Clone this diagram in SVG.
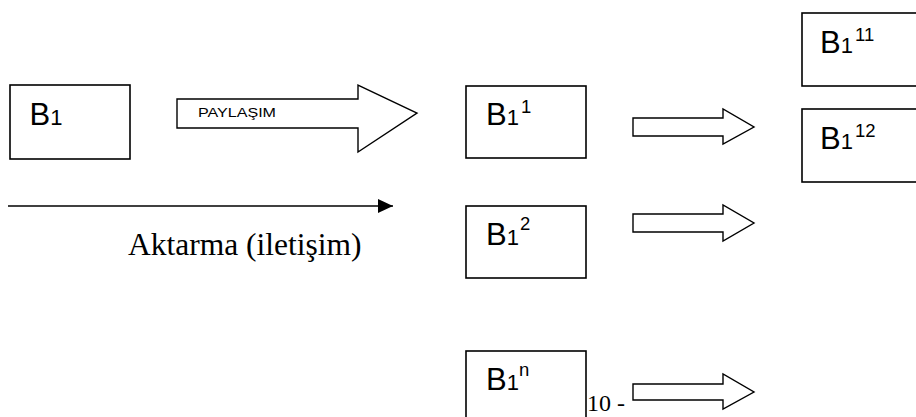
<svg xmlns="http://www.w3.org/2000/svg" width="916" height="417" viewBox="0 0 916 417">
  <style>
    .box { fill: #fff; stroke: #000; stroke-width: 1.6; }
    .blk { fill: #fff; stroke: #000; stroke-width: 1.4; stroke-linejoin: miter; }
    .lbl { font-family: "Liberation Sans", Arial, sans-serif; fill: #000; }
    .big { font-size: 31px; }
    .sub { font-size: 22px; }
    .sup { font-size: 18.5px; }
    .ser { font-family: "Liberation Serif", "Times New Roman", serif; fill: #000; }
  </style>
  <defs>
    <marker id="tri" markerWidth="16" markerHeight="14" refX="15" refY="7" orient="auto" markerUnits="userSpaceOnUse">
      <path d="M0,0 L15,7 L0,14 Z" fill="#000"/>
    </marker>
  </defs>

  <!-- connectors: block arrows and transfer line -->
  <g id="connectors">
    <path class="blk" d="M177,99 H358 V85 L417,113 L358,152 V128 H177 Z"/>
    <text class="lbl" x="198" y="117" font-size="13.5" textLength="78" lengthAdjust="spacingAndGlyphs">PAYLAŞIM</text>
    <path class="blk" d="M633,118 H723 V109 L754,127 L723,144 V136 H633 Z"/>
    <path class="blk" d="M633,214 H723 V205 L754,223 L723,241 V232 H633 Z"/>
    <path class="blk" d="M633,384 H723 V374 L754,392 L723,409 V400 H633 Z"/>
    <line x1="8" y1="206" x2="393" y2="206" stroke="#000" stroke-width="1.6" marker-end="url(#tri)"/>
    <text class="ser" x="128" y="255" font-size="31.5">Aktarma (iletişim)</text>
  </g>

  <g id="b1">
    <rect class="box" x="10" y="85" width="120" height="74"/>
    <text class="lbl" y="125"><tspan class="big" x="29.5">B</tspan><tspan class="sub">1</tspan></text>
  </g>

  <g id="b1-1">
    <rect class="box" x="466" y="86" width="120" height="72"/>
    <text class="lbl" y="125"><tspan class="big" x="486">B</tspan><tspan class="sub">1</tspan></text>
    <text class="lbl sup" x="521" y="113">1</text>
  </g>

  <g id="b1-11">
    <rect class="box" x="802" y="13" width="130" height="73"/>
    <text class="lbl" y="53"><tspan class="big" x="820">B</tspan><tspan class="sub">1</tspan></text>
    <text class="lbl sup" x="855" y="41">11</text>
  </g>

  <g id="b1-12">
    <rect class="box" x="802" y="109" width="130" height="73"/>
    <text class="lbl" y="149"><tspan class="big" x="820">B</tspan><tspan class="sub">1</tspan></text>
    <text class="lbl sup" x="855" y="137">12</text>
  </g>

  <g id="b1-2">
    <rect class="box" x="466" y="206" width="120" height="72"/>
    <text class="lbl" y="245"><tspan class="big" x="486">B</tspan><tspan class="sub">1</tspan></text>
    <text class="lbl sup" x="520" y="230">2</text>
  </g>

  <g id="b1-n">
    <rect class="box" x="466" y="351" width="120" height="80"/>
    <text class="lbl" y="390"><tspan class="big" x="486">B</tspan><tspan class="sub">1</tspan></text>
    <text class="lbl sup" x="519" y="376">n</text>
    <text class="ser" x="587" y="411" font-size="24">10 -</text>
  </g>
</svg>
